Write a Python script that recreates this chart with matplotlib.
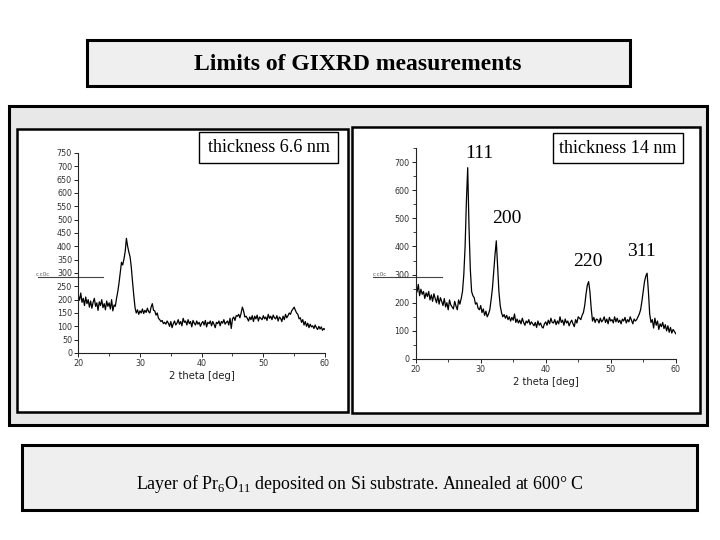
import numpy as np
import matplotlib
matplotlib.use("Agg")
import matplotlib.pyplot as plt
from matplotlib.patches import Rectangle
from matplotlib.ticker import MultipleLocator

plt.rcParams['mathtext.fontset'] = 'custom'
plt.rcParams['mathtext.rm'] = 'Liberation Serif'

# ---------------- data ----------------
two_theta = [round(20 + 0.2 * i, 1) for i in range(201)]

counts_66nm = [
    215, 198, 225, 190, 205, 178, 210, 185, 200, 172,
    195, 168, 190, 205, 175, 188, 160, 192, 178, 200,
    170, 185, 162, 195, 175, 188, 165, 200, 158, 180,
    175, 205, 230, 262, 300, 340, 330, 352, 380, 430,
    400, 378, 360, 320, 265, 215, 170, 150, 162, 145,
    158, 150, 165, 148, 160, 152, 168, 155, 150, 172,
    185, 160, 158, 142, 150, 130, 125, 118, 122, 110,
    115, 108, 120, 112, 100, 118, 95, 110, 120, 105,
    112, 125, 108, 118, 102, 130, 115, 120, 105, 125,
    110, 118, 98, 122, 112, 105, 120, 108, 115, 100,
    112, 118, 105, 122, 98, 115, 110, 120, 102, 118,
    108, 95, 115, 110, 120, 102, 118, 112, 125, 108,
    115, 120, 105, 130, 92, 128, 135, 122, 140, 138,
    145, 132, 150, 172, 158, 135, 138, 130, 120, 135,
    125, 140, 118, 138, 128, 142, 120, 135, 130, 125,
    140, 128, 135, 122, 145, 130, 138, 125, 142, 132,
    128, 140, 120, 135, 130, 118, 138, 125, 145, 132,
    140, 150, 145, 158, 165, 172, 160, 150, 145, 128,
    132, 115, 125, 105, 118, 100, 112, 95, 108, 98,
    102, 92, 105, 95, 88, 100, 90, 98, 85, 92,
    88,
]

counts_14nm = [
    255, 238, 265, 225, 248, 230, 240, 215, 235, 222,
    240, 210, 228, 205, 232, 215, 200, 225, 195, 218,
    205, 190, 215, 185, 200, 175, 210, 192, 185, 178,
    205, 188, 175, 210, 195, 215, 240, 300, 400, 560,
    680, 470, 320, 240, 225, 218, 195, 200, 180, 175,
    190, 165, 178, 155, 170, 150, 160, 175, 210, 250,
    310, 370, 420, 330, 240, 190, 165, 150, 158, 145,
    155, 140, 150, 135, 148, 138, 160, 130, 142, 128,
    138, 125, 145, 130, 120, 135, 128, 140, 122, 132,
    125, 118, 130, 112, 135, 120, 128, 115, 110, 125,
    132, 120, 138, 125, 145, 130, 128, 140, 122, 135,
    125, 150, 130, 138, 120, 142, 128, 135, 118, 130,
    138, 125, 115, 140, 128, 150, 145, 140, 155, 165,
    190, 230, 262, 275, 240, 180, 135, 148, 130, 142,
    140, 128, 145, 132, 138, 150, 130, 142, 125, 148,
    135, 140, 128, 150, 132, 145, 130, 138, 125, 142,
    135, 148, 128, 140, 132, 150, 138, 125, 142, 135,
    140, 150, 160, 175, 205, 240, 275, 295, 305, 240,
    160, 130, 140, 110, 145, 120, 135, 105, 125, 115,
    130, 108, 122, 100, 118, 95, 112, 92, 105, 98,
    90,
]

peak_labels = ["111", "200", "220", "311"]
peak_pos = [(29.8, 732), (34.05, 498), (46.55, 346), (54.7, 382)]

title_text = "Limits of GIXRD measurements"
caption_text = r"Layer of $\mathrm{Pr}_6\mathrm{O}_{11}$ deposited on Si substrate. Annealed at 600° C"
label_left = "thickness 6.6 nm"
label_right = "thickness 14 nm"
xlabel = "2 theta [deg]"
artefact_text = "c.c0c"

# ---------------- figure ----------------
W, H = 720, 540
fig = plt.figure(figsize=(7.2, 5.4), dpi=100)
fig.patch.set_facecolor("white")

bg = fig.add_axes([0, 0, 1, 1])
bg.set_xlim(0, W)
bg.set_ylim(H, 0)
bg.axis("off")

def box(x0, y0, x1, y1, fc, lw, ec="black"):
    bg.add_patch(Rectangle((x0, y0), x1 - x0, y1 - y0, facecolor=fc,
                           edgecolor=ec, linewidth=lw))

serif = "Liberation Serif"

# title box
box(87, 40, 630, 86, "#efefef", 2.2)
bg.text(358, 64, title_text, ha="center", va="center", fontsize=17,
        fontweight="bold", family=serif)

# main panel
box(9, 106, 707, 425, "#e8e8e8", 2.2)
box(17, 129, 348, 412, "white", 1.8)
box(352, 127, 700, 413, "white", 1.8)

# caption box
box(22, 445, 697, 510, "#efefef", 2.2)
bg.text(136, 484, caption_text, ha="left", va="center", fontsize=12.9,
        family=serif)

# label boxes
box(199, 132, 338, 163, "white", 1.0)
bg.text(268.5, 148, label_left, ha="center", va="center", fontsize=13.1, family=serif)
box(553, 133, 683, 163, "white", 1.0)
bg.text(618, 148.5, label_right, ha="center", va="center", fontsize=13.1, family=serif)

def pax(x0, y0, x1, y1):
    return fig.add_axes([x0 / W, 1 - y1 / H, (x1 - x0) / W, (y1 - y0) / H])

def style(ax, major_y):
    ax.set_facecolor("none")
    for s in ["top", "right"]:
        ax.spines[s].set_visible(False)
    for s in ["left", "bottom"]:
        ax.spines[s].set_linewidth(0.8)
        ax.spines[s].set_color("#222222")
    ax.set_xlim(20, 60)
    ax.set_ylim(0, 750)
    ax.xaxis.set_major_locator(MultipleLocator(10))
    ax.xaxis.set_minor_locator(MultipleLocator(5))
    ax.yaxis.set_major_locator(MultipleLocator(major_y))
    ax.yaxis.set_minor_locator(MultipleLocator(50))
    ax.tick_params(which="major", length=3, width=0.7, labelsize=5.8,
                   labelcolor="#333333", pad=1.5, color="#222222")
    ax.tick_params(which="minor", length=2, width=0.6, color="#222222")
    ax.set_xlabel(xlabel, fontsize=7.2, color="#222222", labelpad=2)

axL = pax(78.3, 153, 325, 353)
style(axL, 50)
axL.plot(two_theta, counts_66nm, color="black", lw=0.9)

axR = pax(415.7, 148, 675.7, 359)
style(axR, 100)
axR.set_yticks(np.arange(0, 701, 100))
axR.plot(two_theta, counts_14nm, color="black", lw=0.9)

for lab, (px, py) in zip(peak_labels, peak_pos):
    axR.text(px, py, lab, ha="center", va="center", fontsize=14,
             family=serif, clip_on=False)

# scanning artefacts near y=300
bg.plot([38, 103], [277, 277], color="#444444", lw=0.8)
bg.text(36, 274.5, artefact_text, fontsize=4, color="#555555", va="center")
bg.plot([373, 442], [277, 277], color="#444444", lw=0.8)
bg.text(373, 274.5, artefact_text, fontsize=4, color="#555555", va="center")

fig.savefig("out.png", dpi=100)
